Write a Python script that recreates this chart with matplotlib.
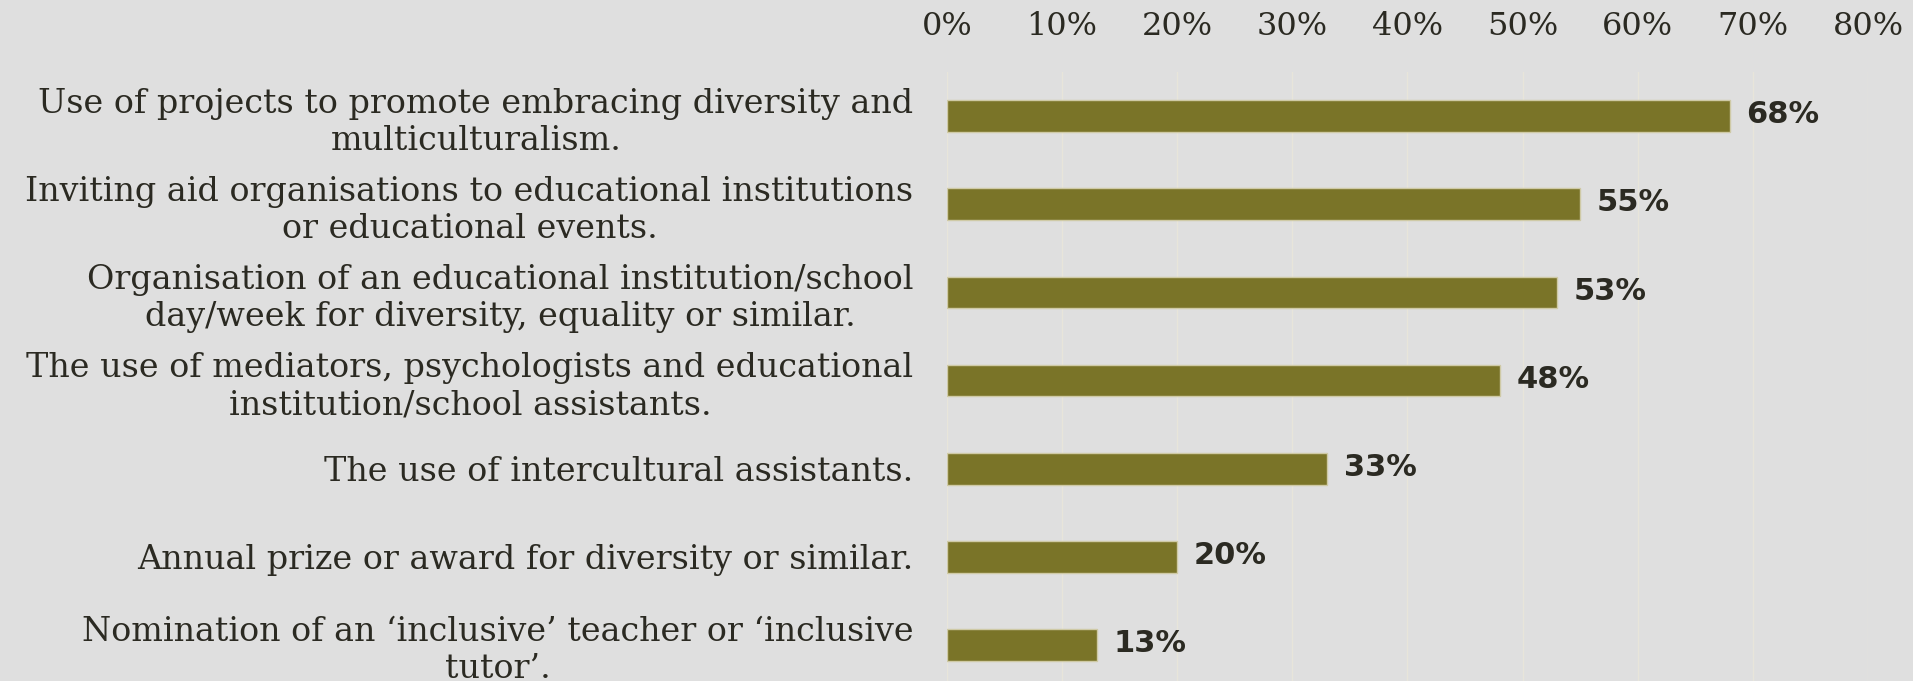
import matplotlib.pyplot as plt

categories = [
    "Use of projects to promote embracing diversity and\nmulticulturalism.",
    "Inviting aid organisations to educational institutions\nor educational events.",
    "Organisation of an educational institution/school\nday/week for diversity, equality or similar.",
    "The use of mediators, psychologists and educational\ninstitution/school assistants.",
    "The use of intercultural assistants.",
    "Annual prize or award for diversity or similar.",
    "Nomination of an \u2018inclusive\u2019 teacher or \u2018inclusive\ntutor\u2019.",
]
values = [68, 55, 53, 48, 33, 20, 13]
x_ticks = [0, 10, 20, 30, 40, 50, 60, 70, 80]

BG = "#dfdfdf"
BAR = "#7a7428"
TEXT = "#2b2a22"

fig = plt.figure(figsize=(19.13, 6.81), dpi=100, facecolor=BG)
ax = fig.add_axes([0.495, 0.0, 0.4815, 0.894], facecolor=BG)

pos = list(range(len(categories)))
ax.barh(pos, values, height=0.36, color=BAR, edgecolor="#cfcaa6", linewidth=1, zorder=3)

# value labels just past the bar ends
for y, v in zip(pos, values):
    ax.annotate(f"{v}%", (v, y), xytext=(12, 1), textcoords="offset points",
                va="center", ha="left", fontsize=22, fontweight="bold",
                family="DejaVu Sans", color=TEXT)

ax.set_xlim(0, 80)
ax.set_ylim(6.41, -0.5)
ax.xaxis.tick_top()
ax.set_xticks(x_ticks)
ax.set_xticklabels([f"{t}%" for t in x_ticks], family="DejaVu Serif", fontsize=23, color=TEXT)
ax.set_yticks(pos)
ax.set_yticklabels(categories, family="DejaVu Serif", fontsize=24, color=TEXT,
                   multialignment="center", linespacing=1.2)
ax.tick_params(axis="x", length=0, pad=22)
ax.tick_params(axis="y", length=0, pad=24)
ax.grid(axis="x", color="#e8e5da", linewidth=1, zorder=0)
for s in ax.spines.values():
    s.set_visible(False)

fig.savefig("out.png", dpi=100, facecolor=BG)
plt.close(fig)
